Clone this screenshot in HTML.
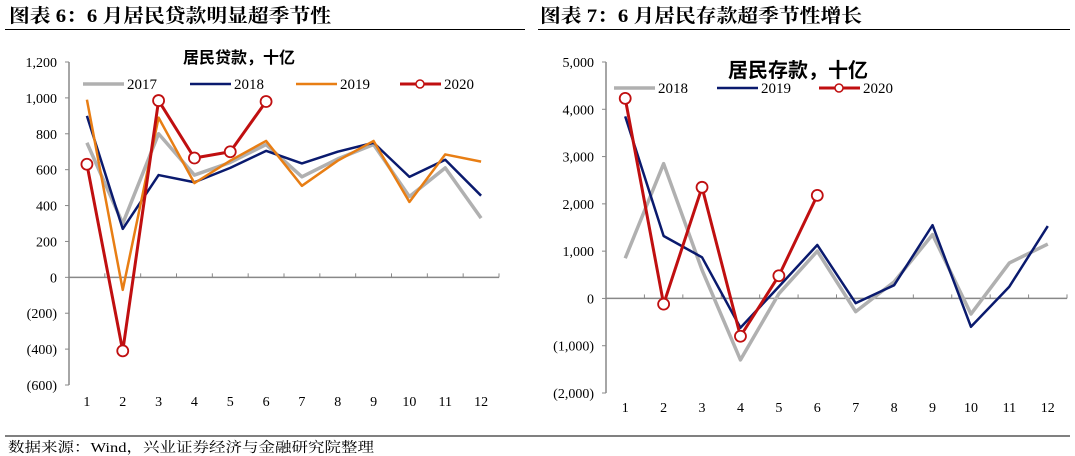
<!DOCTYPE html>
<html><head><meta charset="utf-8"><style>
body{margin:0;background:#fff;width:1075px;height:456px;overflow:hidden;font-family:"Liberation Serif","Noto Serif CJK SC",serif}
svg{position:absolute;left:0;top:0}
</style></head><body>
<svg width="1075" height="456">
<text x="9" y="22" font-size="19" font-weight="bold" textLength="322" lengthAdjust="spacingAndGlyphs" font-family="Liberation Serif,Noto Serif CJK SC,serif">图表 6：6 月居民贷款明显超季节性</text>
<text x="540" y="22" font-size="19" font-weight="bold" textLength="322" lengthAdjust="spacingAndGlyphs" font-family="Liberation Serif,Noto Serif CJK SC,serif">图表 7：6 月居民存款超季节性增长</text>
<line x1="5" y1="29.5" x2="525" y2="29.5" stroke="#000" stroke-width="1"/>
<line x1="538" y1="29.5" x2="1070" y2="29.5" stroke="#000" stroke-width="1"/>
<line x1="5" y1="436" x2="1070" y2="436" stroke="#000" stroke-width="1"/>
<text x="8" y="452" font-size="14" textLength="366" lengthAdjust="spacingAndGlyphs">数据来源：Wind，兴业证券经济与金融研究院整理</text>
<g id="left"></g>
<g id="right"></g>
</svg>
<script>
const months=[1,2,3,4,5,6,7,8,9,10,11,12];
const loanTicks=[1200,1000,800,600,400,200,0,-200,-400,-600];
const loan2017=[750,300,800,570,640,740,560,660,740,450,610,330];
const loan2018=[900,270,570,530,610,705,635,700,750,560,655,455];
const loan2019=[990,-70,890,525,650,760,510,650,760,420,685,645];
const loan2020=[630,-410,985,665,700,980];
const depTicks=[5000,4000,3000,2000,1000,0,-1000,-2000];
const dep2018=[850,2850,600,-1300,100,1000,-280,350,1350,-330,750,1150];
const dep2019=[3850,1320,870,-620,250,1130,-100,280,1550,-600,250,1530];
const dep2020=[4230,-120,2350,-800,480,2180];

const NS="http://www.w3.org/2000/svg";
function mk(p,t,a){const e=document.createElementNS(NS,t);for(const k in a)e.setAttribute(k,a[k]);p.appendChild(e);return e;}
function fmt(v){const s=Math.abs(v).toLocaleString('en-US');return v<0?'('+s+')':s;}
function chart(g,cfg){
  const y=v=>cfg.y0+(cfg.max-v)*(cfg.y1-cfg.y0)/(cfg.max-cfg.min);
  const band=(cfg.xEnd-cfg.xAxis)/12;
  const x=i=>cfg.xAxis+band*(i+0.5);
  let e=mk(g,'line',{x1:cfg.xAxis,y1:y(cfg.max),x2:cfg.xAxis,y2:y(cfg.min),stroke:'#888','stroke-width':1.5});
  
  cfg.ticks.forEach(t=>{
    mk(g,'line',{x1:cfg.xAxis-4,y1:y(t),x2:cfg.xAxis,y2:y(t),stroke:'#888'});
    const tx=mk(g,'text',{x:cfg.xAxis-12,y:y(t)+5,'text-anchor':'end','font-size':14});
    tx.textContent=fmt(t);
    
    
  });
  e=mk(g,'line',{x1:cfg.xAxis,y1:y(0),x2:cfg.xEnd,y2:y(0),stroke:'#888','stroke-width':1.5});
  
  for(let i=1;i<=12;i++)mk(g,'line',{x1:cfg.xAxis+band*i,y1:y(0)-4,x2:cfg.xAxis+band*i,y2:y(0),stroke:'#888'});
  months.forEach((m,i)=>{
    const tx=mk(g,'text',{x:x(i),y:cfg.labY,'text-anchor':'middle','font-size':14});
    tx.textContent=m;
    
    
  });
  cfg.series.forEach(s=>{
    const pts=s.data.map((v,i)=>x(i)+','+y(v)).join(' ');
    const pl=mk(g,'polyline',{points:pts,fill:'none',stroke:s.color,'stroke-width':s.w,'stroke-linejoin':'round'});
    
    
    if(s.marker)s.data.forEach((v,i)=>{
      const c=mk(g,'circle',{cx:x(i),cy:y(v),r:5.5,fill:'#fff',stroke:s.color,'stroke-width':1.8});
      
      
    });
    const lg=s.leg;
    mk(g,'line',{x1:lg[0],y1:lg[1],x2:lg[0]+41,y2:lg[1],stroke:s.color,'stroke-width':s.w});
    if(s.marker)mk(g,'circle',{cx:lg[0]+20,cy:lg[1],r:4,fill:'#fff',stroke:s.color,'stroke-width':1.5});
    const lt=mk(g,'text',{x:lg[0]+44,y:lg[1]+5,'font-size':15});
    lt.textContent=s.name;
    
    
  });
  const ct=mk(g,'text',{x:cfg.title[0],y:cfg.title[1],'font-size':cfg.title[2],'font-weight':'bold','font-family':'Noto Sans CJK SC,sans-serif'});
  ct.textContent=cfg.title[3];
  
  
}
chart(document.getElementById('left'),{y0:62,y1:385,max:1200,min:-600,xAxis:69,xEnd:499,labY:406,ticks:loanTicks,
 title:[183,63,16,'居民贷款，十亿'],
 series:[
  {name:'2017',data:loan2017,color:'#b0b0b0',w:3.5,leg:[83,84]},
  {name:'2018',data:loan2018,color:'#0a1a6e',w:2.5,leg:[190,84]},
  {name:'2019',data:loan2019,color:'#e87e14',w:2.5,leg:[296,84]},
  {name:'2020',data:loan2020,color:'#c00f10',w:3,marker:true,leg:[400,84]}]});
chart(document.getElementById('right'),{y0:62,y1:393,max:5000,min:-2000,xAxis:606,xEnd:1067,labY:412,ticks:depTicks,
 title:[728,77,20,'居民存款，十亿'],
 series:[
  {name:'2018',data:dep2018,color:'#b0b0b0',w:3.5,leg:[614,88]},
  {name:'2019',data:dep2019,color:'#0a1a6e',w:2.5,leg:[717,88]},
  {name:'2020',data:dep2020,color:'#c00f10',w:3,marker:true,leg:[819,88]}]});
</script>
</body></html>
